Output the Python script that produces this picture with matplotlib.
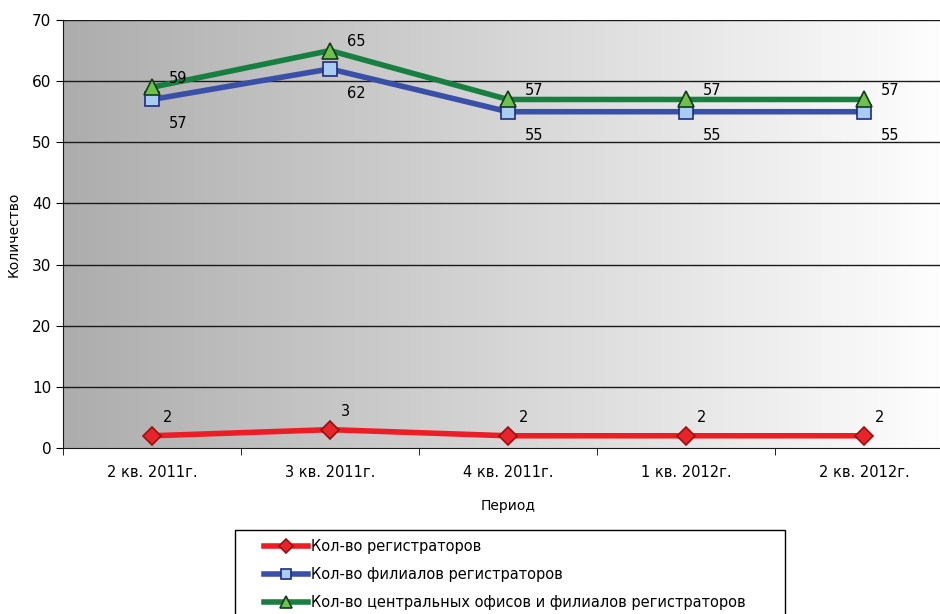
import numpy as np
import matplotlib.pyplot as plt
from matplotlib.patches import Rectangle
from matplotlib.colors import LinearSegmentedColormap

periods = ["2 кв. 2011г.", "3 кв. 2011г.", "4 кв. 2011г.", "1 кв. 2012г.", "2 кв. 2012г."]
registrars = [2, 3, 2, 2, 2]
branches = [57, 62, 55, 55, 55]
offices_and_branches = [59, 65, 57, 57, 57]

series_names = ["Кол-во регистраторов",
                "Кол-во филиалов регистраторов",
                "Кол-во центральных офисов и филиалов регистраторов"]

plt.rcParams['font.family'] = ['DejaVu Sans']
plt.rcParams['font.size'] = 10

W, H = 940, 614
fig = plt.figure(figsize=(W / 100, H / 100), dpi=100)
# plot area runs past the right edge of the picture, like the original
ax = fig.add_axes([63 / W, 1 - 448 / H, 890 / W, 428 / H])

x = np.arange(len(periods))
ax.set_xlim(-0.5, len(periods) - 0.5)
ax.set_ylim(0, 70)

# grey-to-white gradient background
grad = np.linspace(0, 1, 256).reshape(1, -1)
cmap = LinearSegmentedColormap.from_list("bg", ["#adadad", "#ffffff"])
ax.imshow(grad, extent=[0, 1, 0, 1], transform=ax.transAxes, aspect='auto',
          cmap=cmap, zorder=0)

for yv in range(10, 80, 10):
    ax.axhline(yv, color="#1a1a1a", lw=1, zorder=1)

ax.plot(x, offices_and_branches, color="#178040", lw=4, marker="^", ms=12,
        mfc="#6cc24a", mec="#123a1c", mew=1.2, zorder=3, label=series_names[2])
ax.plot(x, branches, color="#3a50a8", lw=4, marker="s", ms=10,
        mfc="#a8cdf0", mec="#1e2c80", mew=1.2, zorder=2, label=series_names[1])
ax.plot(x, registrars, color="#ee1c24", lw=4, marker="D", ms=9,
        mfc="#e8242a", mec="#9a1010", mew=1.2, zorder=3, label=series_names[0])

for xi, v in zip(x, registrars):
    ax.annotate(str(v), (xi, v), xytext=(8, 10), textcoords="offset points",
                fontsize=10.5, zorder=5)
for xi, v in zip(x, branches):
    ax.annotate(str(v), (xi, v), xytext=(12, -12), textcoords="offset points",
                fontsize=10.5, va="top", zorder=5)
for xi, v in zip(x, offices_and_branches):
    ax.annotate(str(v), (xi, v), xytext=(12, 3), textcoords="offset points",
                fontsize=10.5, zorder=5)

ax.set_xticks(x)
ax.set_xticklabels(periods, fontsize=10.5)
ax.set_xticks(np.arange(-0.5, len(periods)), minor=True)
ax.tick_params(axis="x", which="major", length=0, pad=12)
ax.tick_params(axis="x", which="minor", length=5, direction="out")
ax.set_yticks(range(0, 80, 10))
ax.tick_params(axis="y", length=5, direction="out", labelsize=11)

for s in ["top", "right"]:
    ax.spines[s].set_visible(False)
ax.spines["left"].set_color("#1a1a1a")
ax.spines["bottom"].set_color("#1a1a1a")

ax.set_ylabel("Количество", fontsize=10, labelpad=8)
ax.set_xlabel("Период", fontsize=10, labelpad=14)

handles, labels = ax.get_legend_handles_labels()
order = [2, 1, 0]
fig.legend([handles[i] for i in order], [labels[i] for i in order],
           loc="upper left", bbox_to_anchor=(258 / W, 1 - 533 / H),
           frameon=False, fontsize=10.5, handlelength=3.0, handletextpad=0.25,
           labelspacing=0.9, borderaxespad=0, markerscale=0.75)
fig.patches.append(Rectangle((235 / W, -0.05), 550 / W, 0.05 + 1 - 530 / H,
                             transform=fig.transFigure, fill=False,
                             edgecolor="black", lw=1))

fig.savefig("out.png", dpi=100)
